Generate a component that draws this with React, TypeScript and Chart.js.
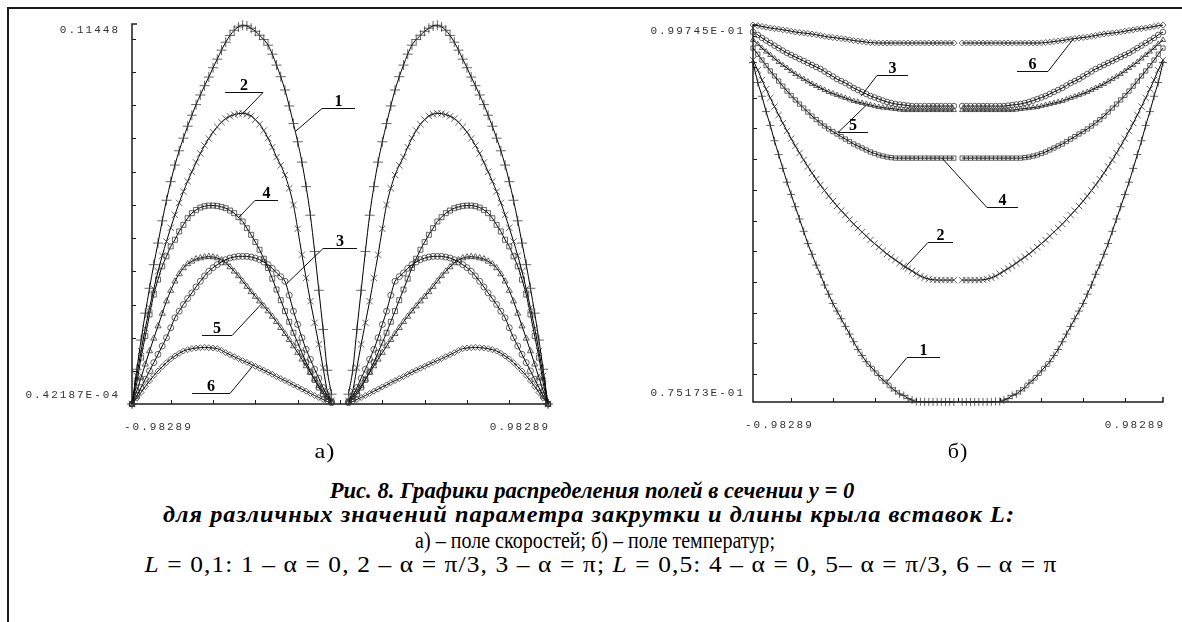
import React, { useEffect, useLayoutEffect, useRef } from 'react';
import { Chart, registerables } from 'chart.js';

Chart.register(...registerables);

// ---------- а) velocity field, section y = 0 ----------
// sampling positions, wall -> duct axis (left half, right half)
const velXLeft = [-0.98289, -0.96, -0.94, -0.92, -0.9, -0.88, -0.86, -0.84, -0.82, -0.8, -0.78, -0.76, -0.74, -0.72, -0.7, -0.68, -0.66, -0.64, -0.62, -0.6, -0.58, -0.56, -0.54, -0.52, -0.5, -0.48, -0.46, -0.44, -0.42, -0.4, -0.38, -0.36, -0.34, -0.32, -0.3, -0.28, -0.26, -0.24, -0.22, -0.2, -0.18, -0.16, -0.14, -0.12, -0.1, -0.08, -0.06, -0.04];
const velXRight = [0.98289, 0.96, 0.94, 0.92, 0.9, 0.88, 0.86, 0.84, 0.82, 0.8, 0.78, 0.76, 0.74, 0.72, 0.7, 0.68, 0.66, 0.64, 0.62, 0.6, 0.58, 0.56, 0.54, 0.52, 0.5, 0.48, 0.46, 0.44, 0.42, 0.4, 0.38, 0.36, 0.34, 0.32, 0.3, 0.28, 0.26, 0.24, 0.22, 0.2, 0.18, 0.16, 0.14, 0.12, 0.1, 0.08, 0.06, 0.04];
// profiles are symmetric about x = 0; values listed wall -> axis
const vel1 = [0.0000422, 0.0105, 0.0193, 0.0274, 0.0349, 0.042, 0.0485, 0.0552, 0.0614, 0.067, 0.072, 0.0763, 0.0801, 0.0837, 0.087, 0.0902, 0.0931, 0.0959, 0.0985, 0.1013, 0.1039, 0.1066, 0.109, 0.111, 0.1126, 0.1136, 0.1141, 0.1139, 0.1132, 0.1123, 0.1111, 0.1098, 0.1081, 0.1054, 0.1021, 0.0986, 0.0946, 0.0898, 0.0845, 0.079, 0.0729, 0.0655, 0.0569, 0.046, 0.0343, 0.0225, 0.0102, 0.003];
const vel2 = [0.0000422, 0.0085, 0.016, 0.0228, 0.029, 0.0347, 0.04, 0.0447, 0.049, 0.0531, 0.057, 0.0606, 0.064, 0.0671, 0.07, 0.0728, 0.0755, 0.0779, 0.08, 0.0819, 0.0835, 0.0849, 0.086, 0.0867, 0.0872, 0.0875, 0.0876, 0.0873, 0.0868, 0.0857, 0.0843, 0.0824, 0.0801, 0.0774, 0.0744, 0.0719, 0.069, 0.065, 0.06, 0.0528, 0.045, 0.038, 0.031, 0.0245, 0.018, 0.011, 0.004, 0.001];
const vel3 = [0.0000422, 0.0025, 0.005, 0.0075, 0.01, 0.0125, 0.015, 0.0175, 0.02, 0.023, 0.026, 0.028, 0.03, 0.0318, 0.0335, 0.0353, 0.037, 0.0386, 0.04, 0.0411, 0.042, 0.0428, 0.0435, 0.044, 0.0443, 0.0445, 0.0445, 0.0445, 0.0443, 0.044, 0.0435, 0.0428, 0.042, 0.0409, 0.0395, 0.0384, 0.037, 0.0328, 0.028, 0.024, 0.02, 0.0165, 0.0135, 0.0105, 0.0078, 0.005, 0.0025, 0.0008];
const vel4 = [0.0000422, 0.0065, 0.014, 0.0205, 0.027, 0.033, 0.0375, 0.0415, 0.0445, 0.0475, 0.0495, 0.052, 0.054, 0.056, 0.0575, 0.0585, 0.0592, 0.0596, 0.0598, 0.0598, 0.0597, 0.0594, 0.059, 0.0583, 0.0575, 0.0563, 0.055, 0.053, 0.051, 0.0488, 0.0465, 0.0438, 0.041, 0.0378, 0.0345, 0.0313, 0.028, 0.0248, 0.0215, 0.0185, 0.0155, 0.0126, 0.0098, 0.0073, 0.005, 0.003, 0.0015, 0.0005];
const vel5 = [0.0000422, 0.004, 0.008, 0.012, 0.016, 0.0198, 0.0235, 0.0273, 0.031, 0.0342, 0.037, 0.0392, 0.041, 0.0422, 0.043, 0.0437, 0.044, 0.0443, 0.0444, 0.0443, 0.044, 0.0434, 0.0425, 0.0413, 0.04, 0.0386, 0.037, 0.0354, 0.0338, 0.0324, 0.031, 0.0295, 0.028, 0.0264, 0.0248, 0.023, 0.0212, 0.0194, 0.0175, 0.0155, 0.0135, 0.0115, 0.0095, 0.0075, 0.0055, 0.0037, 0.002, 0.0006];
const vel6 = [0.0000422, 0.0018, 0.0035, 0.0053, 0.007, 0.0086, 0.01, 0.0113, 0.0125, 0.0136, 0.0145, 0.0153, 0.016, 0.0164, 0.0167, 0.0169, 0.017, 0.0171, 0.017, 0.0169, 0.0167, 0.0162, 0.0155, 0.0149, 0.0143, 0.0137, 0.0131, 0.0126, 0.012, 0.0114, 0.0108, 0.0102, 0.0096, 0.009, 0.0083, 0.0077, 0.0071, 0.0065, 0.0058, 0.0052, 0.0045, 0.0039, 0.0032, 0.0026, 0.002, 0.0014, 0.0008, 0.0003];
const velYMin = 0.42187e-4;
const velYMax = 0.11448;
const velYTicks = [0.01, 0.02, 0.03, 0.04, 0.05, 0.06, 0.07, 0.08, 0.09, 0.1, 0.11];
const velYLabels = ['0.42187E-04', '0.11448'];

// ---------- б) temperature field, section y = 0 ----------
const tempXLeft = [-0.98289, -0.96, -0.94, -0.92, -0.9, -0.88, -0.86, -0.84, -0.82, -0.8, -0.78, -0.76, -0.74, -0.72, -0.7, -0.68, -0.66, -0.64, -0.62, -0.6, -0.58, -0.56, -0.54, -0.52, -0.5, -0.48, -0.46, -0.44, -0.42, -0.4, -0.38, -0.36, -0.34, -0.32, -0.3, -0.28, -0.26, -0.24, -0.22, -0.2, -0.18, -0.16, -0.14, -0.12, -0.1, -0.08, -0.06, -0.04, -0.02];
const tempXRight = [0.98289, 0.96, 0.94, 0.92, 0.9, 0.88, 0.86, 0.84, 0.82, 0.8, 0.78, 0.76, 0.74, 0.72, 0.7, 0.68, 0.66, 0.64, 0.62, 0.6, 0.58, 0.56, 0.54, 0.52, 0.5, 0.48, 0.46, 0.44, 0.42, 0.4, 0.38, 0.36, 0.34, 0.32, 0.3, 0.28, 0.26, 0.24, 0.22, 0.2, 0.18, 0.16, 0.14, 0.12, 0.1, 0.08, 0.06, 0.04, 0.02];
const temp1 = [0.0973, 0.096, 0.0951, 0.0941, 0.0932, 0.0922, 0.0913, 0.0904, 0.0895, 0.0887, 0.0879, 0.0871, 0.0863, 0.0855, 0.0848, 0.0841, 0.0835, 0.0828, 0.0822, 0.0816, 0.0811, 0.0806, 0.0801, 0.0796, 0.0791, 0.0786, 0.0782, 0.0778, 0.0775, 0.0772, 0.0769, 0.0766, 0.0764, 0.0761, 0.0759, 0.0757, 0.0756, 0.0754, 0.0753, 0.0752, 0.0752, 0.07518, 0.07518, 0.07518, 0.07518, 0.07518, 0.07518, 0.07518, 0.07518];
const temp2 = [0.09746, 0.0968, 0.09616, 0.09557, 0.09499, 0.09443, 0.09388, 0.09335, 0.09284, 0.09234, 0.09186, 0.0914, 0.09095, 0.09052, 0.0901, 0.0897, 0.08932, 0.08896, 0.0886, 0.08827, 0.08795, 0.08765, 0.08736, 0.08706, 0.08677, 0.08651, 0.08625, 0.08599, 0.08573, 0.0855, 0.08527, 0.08504, 0.08482, 0.08462, 0.08443, 0.08423, 0.08404, 0.08387, 0.08371, 0.08354, 0.08338, 0.08327, 0.08319, 0.08314, 0.08312, 0.08312, 0.08312, 0.08312, 0.08312];
const temp3 = [0.09929, 0.0991, 0.0989, 0.09873, 0.09857, 0.0984, 0.09824, 0.09808, 0.09792, 0.09779, 0.09766, 0.09753, 0.0974, 0.09727, 0.09714, 0.09701, 0.09688, 0.09672, 0.09655, 0.09639, 0.09622, 0.09609, 0.09596, 0.0958, 0.09564, 0.09551, 0.09538, 0.09525, 0.09512, 0.09502, 0.09492, 0.09482, 0.09473, 0.09466, 0.0946, 0.09456, 0.09453, 0.09449, 0.09446, 0.09446, 0.09446, 0.09446, 0.09446, 0.09446, 0.09446, 0.09446, 0.09446, 0.09446, 0.09446];
const temp4 = [0.09824, 0.09784, 0.09746, 0.0971, 0.09675, 0.09642, 0.09609, 0.09576, 0.09544, 0.09515, 0.09486, 0.09459, 0.09433, 0.09407, 0.09381, 0.09358, 0.09336, 0.09316, 0.09297, 0.0928, 0.09264, 0.09247, 0.09231, 0.09215, 0.09199, 0.09186, 0.09173, 0.0916, 0.09147, 0.09137, 0.09127, 0.0912, 0.09114, 0.0911, 0.09107, 0.09107, 0.09107, 0.09107, 0.09107, 0.09107, 0.09107, 0.09107, 0.09107, 0.09107, 0.09107, 0.09107, 0.09107, 0.09107, 0.09107];
const temp5 = [0.09877, 0.0985, 0.09824, 0.09801, 0.09779, 0.09756, 0.09733, 0.09713, 0.09694, 0.09674, 0.09655, 0.09638, 0.09622, 0.09606, 0.0959, 0.09577, 0.09564, 0.09551, 0.09538, 0.09528, 0.09518, 0.09508, 0.09499, 0.09489, 0.09479, 0.09472, 0.09466, 0.09459, 0.09453, 0.09446, 0.0944, 0.09436, 0.09433, 0.0943, 0.09427, 0.09423, 0.0942, 0.0942, 0.0942, 0.0942, 0.0942, 0.0942, 0.0942, 0.0942, 0.0942, 0.0942, 0.0942, 0.0942, 0.0942];
const temp6 = [0.09974, 0.0997, 0.09965, 0.0996, 0.09955, 0.09951, 0.09948, 0.09943, 0.09939, 0.09934, 0.09929, 0.09925, 0.09922, 0.09919, 0.09916, 0.09911, 0.09906, 0.09901, 0.09896, 0.09893, 0.0989, 0.09886, 0.09883, 0.09878, 0.09873, 0.0987, 0.09867, 0.09863, 0.0986, 0.09858, 0.09857, 0.09857, 0.09857, 0.09857, 0.09857, 0.09857, 0.09857, 0.09857, 0.09857, 0.09857, 0.09857, 0.09857, 0.09857, 0.09857, 0.09857, 0.09857, 0.09857, 0.09857, 0.09857];
const tempYMin = 0.075173;
const tempYMax = 0.099745;
const tempYTicks = [0.077, 0.079, 0.081, 0.083, 0.085, 0.087, 0.089, 0.091, 0.093, 0.095, 0.097, 0.099];
const tempYLabels = ['0.75173E-01', '0.99745E-01'];

// shared abscissa
const xMin = -0.98289;
const xMax = 0.98289;
const xTicks = [-0.8, -0.6, -0.4, -0.2, 0, 0.2, 0.4, 0.6, 0.8];
const xLabels = ['-0.98289', '0.98289'];
const curveNames = ['1', '2', '3', '4', '5', '6'];

// ---------- styling / layout ----------
const markerShapes = ['cross', 'crossRot', 'circle', 'rect', 'triangle', 'rectRot'];
const velRadii = [5, 4.5, 3, 3.5, 3.5, 3];
const tempRadii = [4, 4.5, 2.8, 3, 3, 3];

// number callouts: [label, underline x1, x2, underline y, leader target x, y, leader starts at 'l' | 'r']
type Callout = [string, number, number, number, number, number, 'l' | 'r'];
const velCallouts: Callout[] = [
  ['2', -0.543, -0.364, 0.094, -0.458, 0.0876, 'r'],
  ['1', -0.085, 0.071, 0.0891, -0.213, 0.082, 'l'],
  ['4', -0.402, -0.293, 0.0614, -0.482, 0.056, 'l'],
  ['3', -0.08, 0.08, 0.047, -0.25, 0.0364, 'l'],
  ['5', -0.652, -0.51, 0.0208, -0.368, 0.0304, 'r'],
  ['6', -0.699, -0.52, 0.0033, -0.416, 0.0112, 'r'],
];
const tempCallouts: Callout[] = [
  ['6', 0.2827, 0.4313, 0.09675, 0.551, 0.0988, 'r'],
  ['3', -0.3885, -0.2399, 0.09648, -0.465, 0.0951, 'l'],
  ['5', -0.5754, -0.4316, 0.09277, -0.441, 0.0945, 'l'],
  ['4', 0.1389, 0.2875, 0.08788, -0.077, 0.09107, 'l'],
  ['2', -0.144, -0.0241, 0.0856, -0.264, 0.0838, 'l'],
  ['1', -0.2446, -0.0864, 0.0781, -0.3405, 0.0765, 'l'],
];

function buildDatasets(xl: number[], xr: number[], curves: number[][], radii: number[]) {
  return curves.map((ys, i) => ({
    label: curveNames[i],
    data: [
      ...xl.map((x, j) => ({ x, y: ys[j] })),
      { x: 0, y: null },
      ...xr.map((x, j) => ({ x, y: ys[j] })),
    ],
    borderColor: '#000',
    borderWidth: 1,
    pointStyle: markerShapes[i],
    pointRadius: radii[i],
    pointBorderColor: 'rgba(50,50,50,0.75)',
    pointBackgroundColor: 'rgba(0,0,0,0)',
    pointBorderWidth: 1,
    cubicInterpolationMode: 'monotone',
    spanGaps: false,
    clip: false,
  }));
}

const fieldAxes = {
  id: 'fieldAxes',
  beforeDatasetsDraw(chart: any, _args: any, o: any) {
    const { ctx, chartArea: ca } = chart;
    const xs = chart.scales.x;
    const ys = chart.scales.y;
    ctx.save();
    ctx.strokeStyle = '#1c1c1c';
    ctx.lineWidth = 1.5;
    ctx.beginPath();
    ctx.moveTo(ca.left + 5, ca.top);
    ctx.lineTo(ca.left, ca.top);
    ctx.lineTo(ca.left, ca.bottom);
    ctx.lineTo(ca.right, ca.bottom);
    ctx.lineTo(ca.right, ca.bottom - 5);
    ctx.stroke();
    ctx.lineWidth = 1;
    ctx.beginPath();
    for (const t of o.yTicks) {
      const py = Math.round(ys.getPixelForValue(t)) + 0.5;
      ctx.moveTo(ca.left, py);
      ctx.lineTo(ca.left + 4, py);
    }
    for (const t of o.xTicks) {
      const px = Math.round(xs.getPixelForValue(t)) + 0.5;
      ctx.moveTo(px, ca.bottom);
      ctx.lineTo(px, ca.bottom - 4);
    }
    ctx.stroke();

    ctx.fillStyle = '#333';
    ctx.font = '11px "Liberation Mono", monospace';
    ctx.letterSpacing = '2px';
    ctx.textBaseline = 'middle';
    ctx.textAlign = 'right';
    ctx.fillText(o.yLabels[1], ca.left - o.yGap + 2, ys.getPixelForValue(o.yMax) + 6);
    ctx.fillText(o.yLabels[0], ca.left - o.yGap + 2, ys.getPixelForValue(o.yMin) - 9);
    ctx.textAlign = 'left';
    ctx.fillText(xLabels[0], xs.getPixelForValue(xMin) - 8, ca.bottom + 23);
    ctx.textAlign = 'right';
    ctx.fillText(xLabels[1], xs.getPixelForValue(xMax) + 2, ca.bottom + 23);
    ctx.restore();
  },
  afterDatasetsDraw(chart: any, _args: any, o: any) {
    const { ctx } = chart;
    const xs = chart.scales.x;
    const ys = chart.scales.y;
    ctx.save();
    ctx.strokeStyle = '#111';
    ctx.lineWidth = 1;
    ctx.fillStyle = '#000';
    ctx.font = 'bold 16px "Liberation Serif", serif';
    ctx.textAlign = 'center';
    ctx.textBaseline = 'alphabetic';
    for (const c of o.callouts as Callout[]) {
      const [label, x1, x2, yl, tx, ty, side] = c;
      const p1 = xs.getPixelForValue(x1);
      const p2 = xs.getPixelForValue(x2);
      const py = Math.round(ys.getPixelForValue(yl)) + 0.5;
      const sx = side === 'l' ? p1 : p2;
      ctx.beginPath();
      ctx.moveTo(p1, py);
      ctx.lineTo(p2, py);
      ctx.moveTo(sx, py);
      ctx.lineTo(xs.getPixelForValue(tx), ys.getPixelForValue(ty));
      ctx.stroke();
      ctx.fillText(label, (p1 + p2) / 2, py - 3);
    }
    ctx.restore();
  },
};

type PanelProps = {
  left: number;
  padding: { left: number; top: number; right: number; bottom: number };
  xl: number[];
  xr: number[];
  curves: number[][];
  radii: number[];
  yMin: number;
  yMax: number;
  yTicks: number[];
  yLabels: string[];
  yGap: number;
  callouts: Callout[];
};

function FieldPanel(p: PanelProps) {
  const ref = useRef<HTMLCanvasElement>(null);
  useEffect(() => {
    if (!ref.current) return;
    const chart = new Chart(ref.current, {
      type: 'line',
      data: { datasets: buildDatasets(p.xl, p.xr, p.curves, p.radii) as any },
      options: {
        responsive: false,
        animation: false,
        events: [],
        layout: { padding: p.padding },
        scales: {
          x: { type: 'linear', min: xMin, max: xMax, display: false },
          y: { type: 'linear', min: p.yMin, max: p.yMax, display: false },
        },
        plugins: {
          legend: { display: false },
          tooltip: { enabled: false },
          fieldAxes: {
            yTicks: p.yTicks,
            xTicks,
            yLabels: p.yLabels,
            yMin: p.yMin,
            yMax: p.yMax,
            yGap: p.yGap,
            callouts: p.callouts,
          },
        } as any,
      },
      plugins: [fieldAxes as any],
    });
    return () => chart.destroy();
  }, []);
  return (
    <canvas
      ref={ref}
      width={591}
      height={470}
      style={{ position: 'absolute', left: p.left, top: 0, width: 591, height: 470 }}
    />
  );
}

// one caption line, centred at (cx, cy) and fitted to the given width
function FitLine(props: { cx: number; cy: number; width: number; size: number; style?: React.CSSProperties; children: React.ReactNode }) {
  const ref = useRef<HTMLDivElement>(null);
  useLayoutEffect(() => {
    const el = ref.current;
    if (!el) return;
    el.style.letterSpacing = '0px';
    const w0 = el.offsetWidth;
    const n = (el.textContent || '').length;
    if (w0 < props.width && n > 1) {
      el.style.letterSpacing = `${Math.min(1, (props.width - w0) / n)}px`;
    }
    const w1 = el.offsetWidth;
    el.style.transform = `translate(-50%, -50%) scaleX(${props.width / w1})`;
  }, [props.width]);
  return (
    <div
      ref={ref}
      style={{
        position: 'absolute',
        left: props.cx,
        top: props.cy,
        whiteSpace: 'nowrap',
        fontFamily: '"Liberation Serif", "Times New Roman", serif',
        fontSize: props.size,
        lineHeight: 1,
        color: '#000',
        transformOrigin: '50% 50%',
        transform: 'translate(-50%, -50%)',
        ...props.style,
      }}
    >
      {props.children}
    </div>
  );
}

export default function App() {
  const bi: React.CSSProperties = { fontWeight: 'bold', fontStyle: 'italic' };
  return (
    <div style={{ position: 'absolute', left: 0, top: 0, width: 1182, height: 622, background: '#fff', overflow: 'hidden' }}>
      <div
        style={{
          position: 'absolute',
          left: 7,
          top: 7,
          width: 1180,
          height: 620,
          borderTop: '2px solid #1a1a1a',
          borderLeft: '2px solid #1a1a1a',
        }}
      />
      <FieldPanel
        left={0}
        padding={{ left: 132, top: 24, right: 43, bottom: 66 }}
        xl={velXLeft}
        xr={velXRight}
        curves={[vel1, vel2, vel3, vel4, vel5, vel6]}
        radii={velRadii}
        yMin={velYMin}
        yMax={velYMax}
        yTicks={velYTicks}
        yLabels={velYLabels}
        yGap={14}
        callouts={velCallouts}
      />
      <FieldPanel
        left={591}
        padding={{ left: 162, top: 25, right: 19, bottom: 68 }}
        xl={tempXLeft}
        xr={tempXRight}
        curves={[temp1, temp2, temp3, temp4, temp5, temp6]}
        radii={tempRadii}
        yMin={tempYMin}
        yMax={tempYMax}
        yTicks={tempYTicks}
        yLabels={tempYLabels}
        yGap={10}
        callouts={tempCallouts}
      />
      <FitLine cx={325} cy={451} width={21} size={22}>а)</FitLine>
      <FitLine cx={958} cy={451} width={21} size={22}>б)</FitLine>
      <FitLine cx={592} cy={490} width={525} size={24} style={bi}>
        Рис. 8. Графики распределения полей в сечении y = 0
      </FitLine>
      <FitLine cx={589} cy={514} width={852} size={24} style={bi}>
        для различных значений параметра закрутки и длины крыла вставок L:
      </FitLine>
      <FitLine cx={595} cy={540} width={360} size={23}>
        а) – поле скоростей; б) – поле температур;
      </FitLine>
      <FitLine cx={601} cy={564} width={913} size={23}>
        <i>L</i> = 0,1: 1 – α = 0, 2 – α = π/3, 3 – α = π; <i>L</i> = 0,5: 4 – α = 0, 5– α = π/3, 6 – α = π
      </FitLine>
    </div>
  );
}
